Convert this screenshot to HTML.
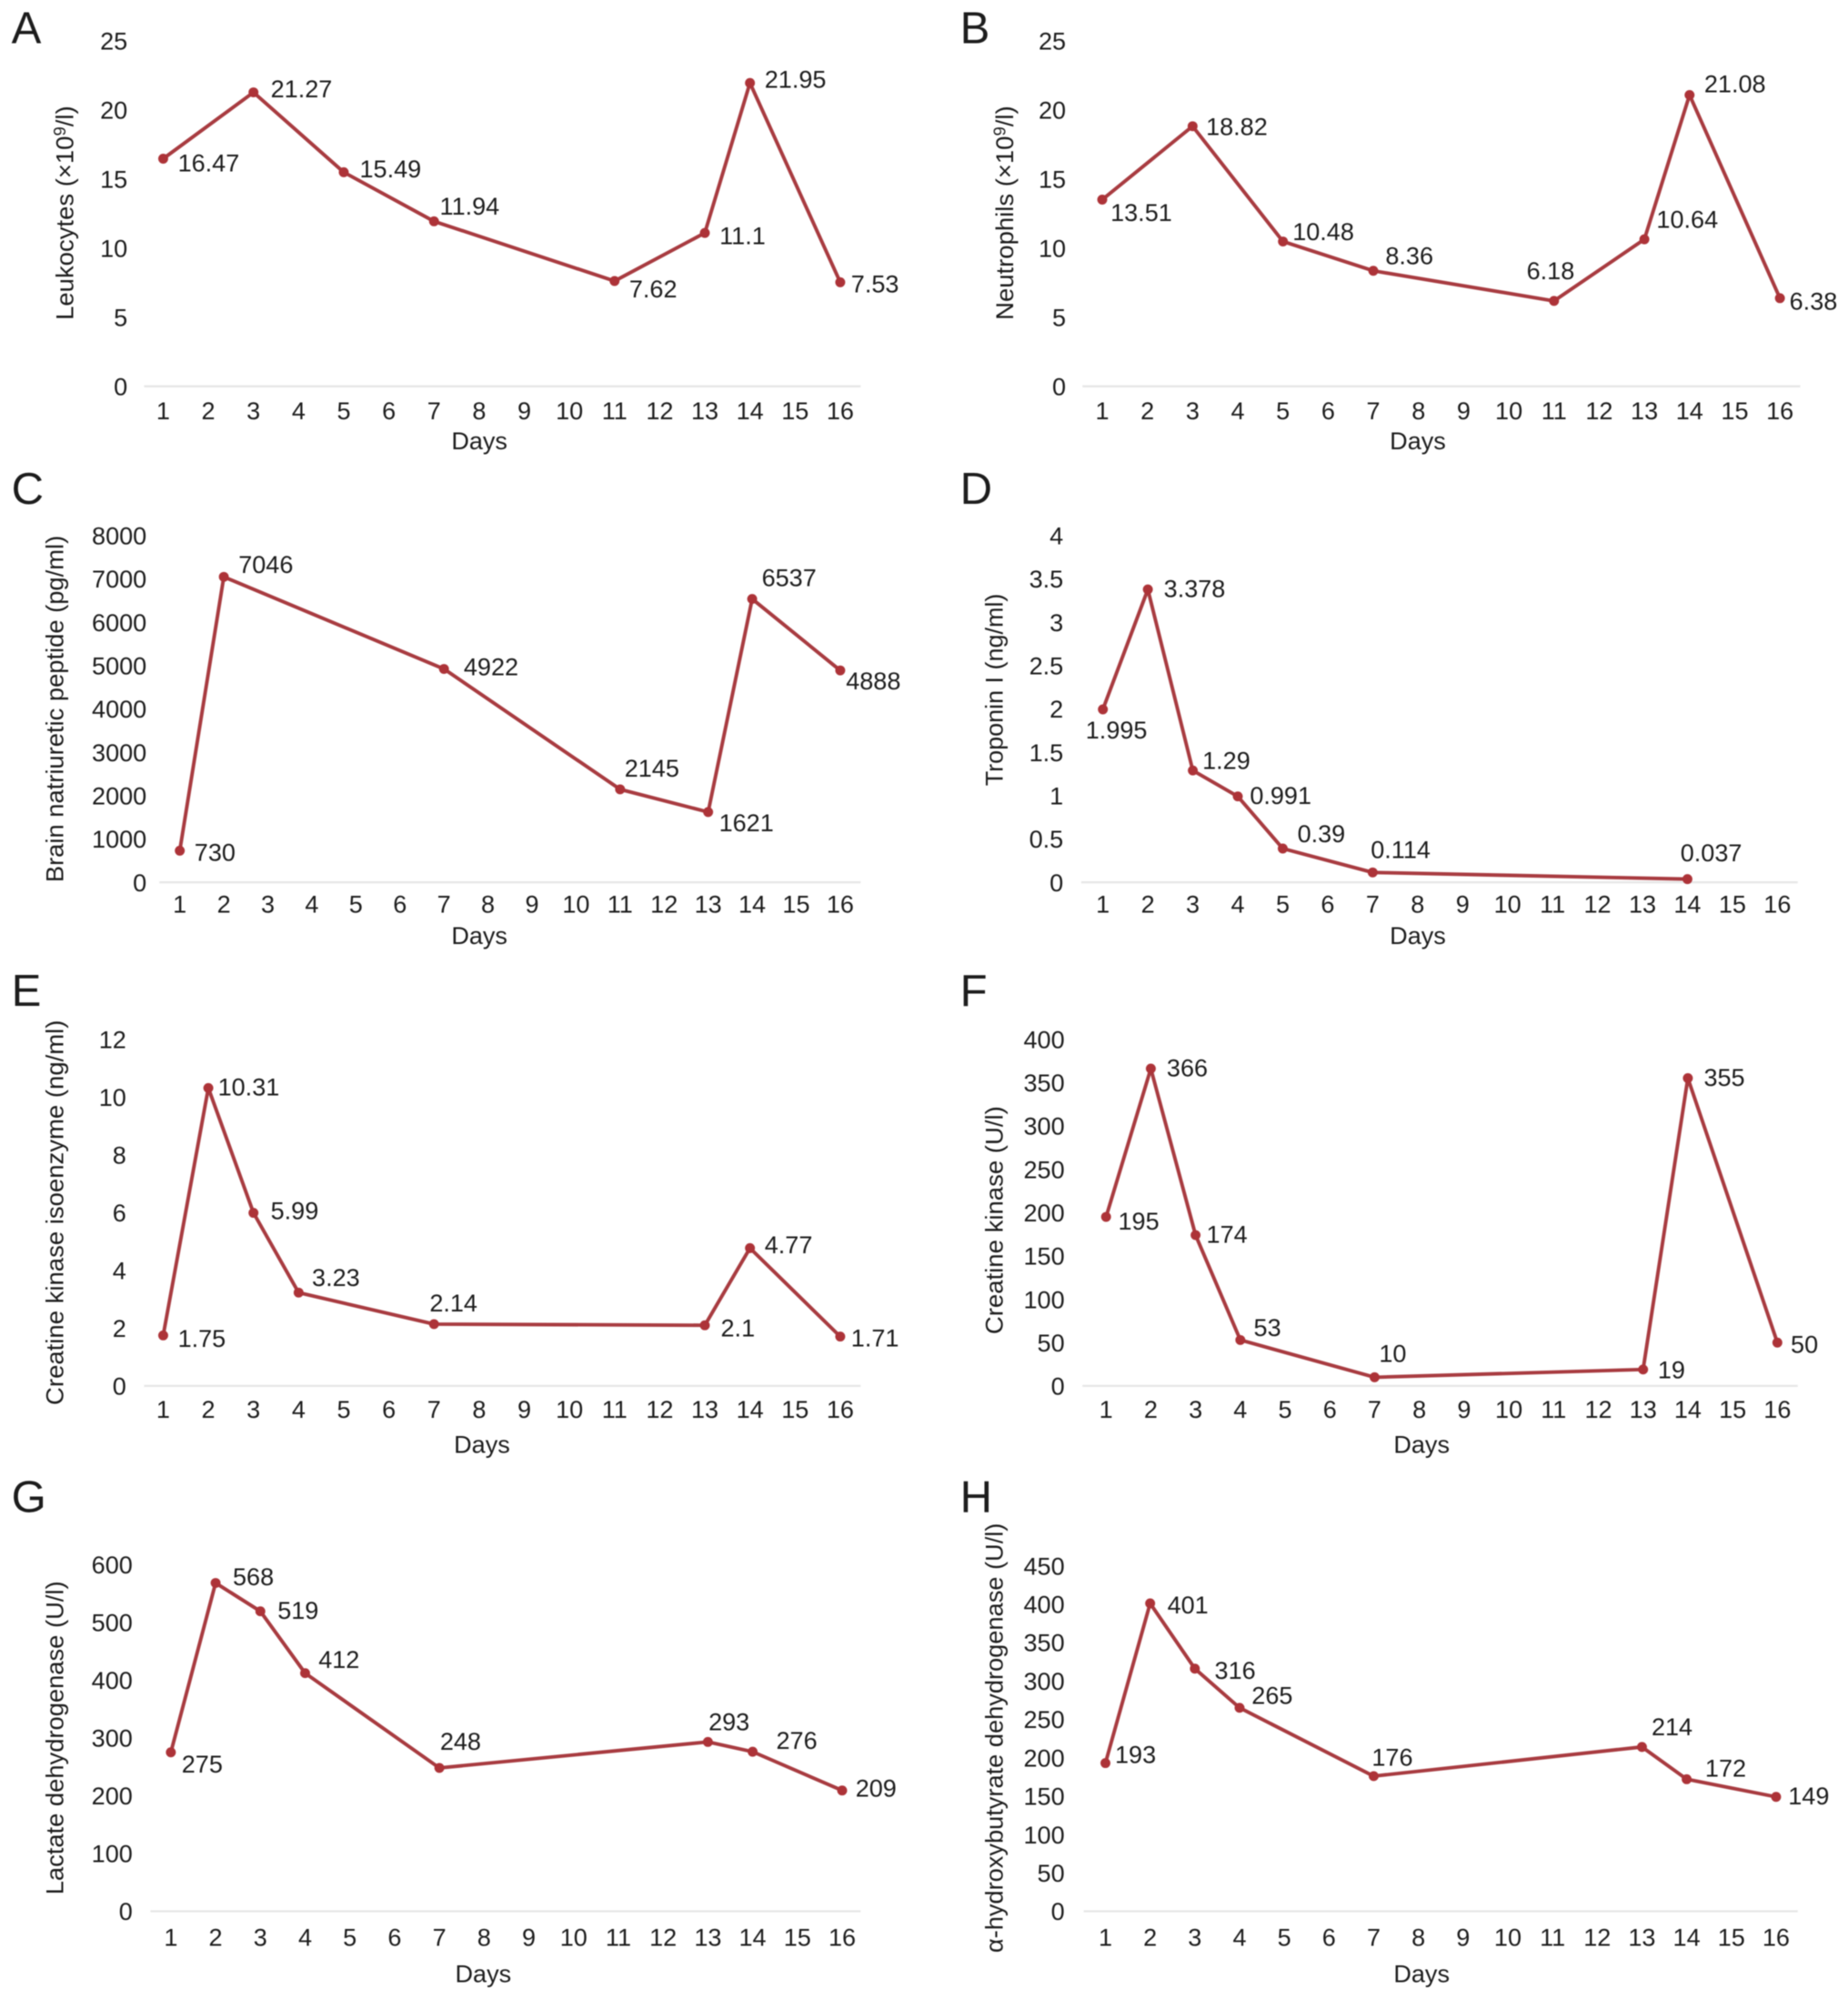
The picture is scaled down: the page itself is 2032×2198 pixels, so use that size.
<!DOCTYPE html>
<html lang="en">
<head>
<meta charset="utf-8">
<title>Laboratory time courses</title>
<style>
html,body{margin:0;padding:0;background:#fff;}
svg{display:block;filter:blur(0.6px);}
text{font-family:"Liberation Sans",Arial,sans-serif;fill:#1c1c1c;}
</style>
</head>
<body>
<svg id="figure" xmlns="http://www.w3.org/2000/svg" width="2032" height="2198" viewBox="0 0 1449.4 1567.8"></svg>
<script>
const dayLabels = [1,2,3,4,5,6,7,8,9,10,11,12,13,14,15,16];

const daysA = [1,3,5,7,11,13,14,16];
const valuesA = [16.47,21.27,15.49,11.94,7.62,11.1,21.95,7.53];
const ticksA = [0,5,10,15,20,25];

const daysB = [1,3,5,7,11,13,14,16];
const valuesB = [13.51,18.82,10.48,8.36,6.18,10.64,21.08,6.38];
const ticksB = [0,5,10,15,20,25];

const daysC = [1,2,7,11,13,14,16];
const valuesC = [730,7046,4922,2145,1621,6537,4888];
const ticksC = [0,1000,2000,3000,4000,5000,6000,7000,8000];

const daysD = [1,2,3,4,5,7,14];
const valuesD = [1.995,3.378,1.29,0.991,0.39,0.114,0.037];
const ticksD = [0,0.5,1,1.5,2,2.5,3,3.5,4];

const daysE = [1,2,3,4,7,13,14,16];
const valuesE = [1.75,10.31,5.99,3.23,2.14,2.1,4.77,1.71];
const ticksE = [0,2,4,6,8,10,12];

const daysF = [1,2,3,4,7,13,14,16];
const valuesF = [195,366,174,53,10,19,355,50];
const ticksF = [0,50,100,150,200,250,300,350,400];

const daysG = [1,2,3,4,7,13,14,16];
const valuesG = [275,568,519,412,248,293,276,209];
const ticksG = [0,100,200,300,400,500,600];

const daysH = [1,2,3,4,7,13,14,16];
const valuesH = [193,401,316,265,176,214,172,149];
const ticksH = [0,50,100,150,200,250,300,350,400,450];

const panels = [
  {id:'A',days:daysA,values:valuesA,ticks:ticksA,title:'Leukocytes (×10',sup:'9',after:'/l)',
   layout:{letterX:9,letterY:34,x1:128,x16:659,base:303,top:32,axisL:113,axisR:675,tickR:100,tickLabelY:322,daysX:376,daysY:346,titleX:51,titleY:167,titleLen:168},
   offsets:[[11,4],[13,-2],[12,-2],[4,-11],[11,7],[11,3],[11,-2],[8,2]]},
  {id:'B',days:daysB,values:valuesB,ticks:ticksB,title:'Neutrophils (×10',sup:'9',after:'/l)',
   layout:{letterX:753,letterY:34,x1:864.5,x16:1396,base:303,top:32,axisL:849,axisR:1412,tickR:836,tickLabelY:322,daysX:1112,daysY:346,titleX:788,titleY:167,titleLen:168},
   offsets:[[6,11],[10,1],[7,-7],[9,-11],[-22,-23],[9,-15],[11,-8],[7,3]]},
  {id:'C',days:daysC,values:valuesC,ticks:ticksC,title:'Brain natriuretic peptide (pg/ml)',
   layout:{letterX:9,letterY:395,x1:141,x16:659,base:692,top:420,axisL:125,axisR:675,tickR:115,tickLabelY:709,daysX:376,daysY:734,titleX:43,titleY:556,titleLen:272},
   offsets:[[11,2],[11,-9],[15,-1],[3,-16],[8,9],[7,-16],[4,9]]},
  {id:'D',days:daysD,values:valuesD,ticks:ticksD,title:'Troponin I (ng/ml)',
   layout:{letterX:753,letterY:395,x1:865,x16:1394,base:692,top:420,axisL:848,axisR:1410,tickR:834,tickLabelY:709,daysX:1112,daysY:734,titleX:780,titleY:541,titleLen:151},
   offsets:[[-14,17],[12,0],[7,-7],[9,0],[11,-11],[-2,-17],[-6,-20]]},
  {id:'E',days:daysE,values:valuesE,ticks:ticksE,title:'Creatine kinase isoenzyme (ng/ml)',
   layout:{letterX:9,letterY:789,x1:128,x16:659,base:1087,top:815,axisL:113,axisR:675,tickR:99,tickLabelY:1105,daysX:378,daysY:1133,titleX:43,titleY:951,titleLen:302},
   offsets:[[11,3],[7,0],[13,-1],[10,-11],[-4,-16],[12,3],[11,-2],[8,2]]},
  {id:'F',days:daysF,values:valuesF,ticks:ticksF,title:'Creatine kinase (U/l)',
   layout:{letterX:753,letterY:789,x1:867.5,x16:1394,base:1087,top:815,axisL:849,axisR:1410,tickR:835,tickLabelY:1105,daysX:1115,daysY:1133,titleX:780,titleY:957,titleLen:179},
   offsets:[[9,4],[12,0],[8,0],[10,-9],[3,-18],[11,1],[12,0],[10,2]]},
  {id:'G',days:daysG,values:valuesG,ticks:ticksG,title:'Lactate dehydrogenase (U/l)',
   layout:{letterX:9,letterY:1186,x1:134,x16:660.5,base:1499,top:1227,axisL:118,axisR:675,tickR:104,tickLabelY:1519,daysX:379,daysY:1548,titleX:43,titleY:1363,titleLen:246},
   offsets:[[8,10],[13,-4],[13,0],[10,-10],[0,-20],[0,-15],[18,-8],[10,-1]]},
  {id:'H',days:daysH,values:valuesH,ticks:ticksH,title:'α-hydroxybutyrate dehydrogenase (U/l)',
   layout:{letterX:753,letterY:1186,x1:867,x16:1393,base:1499,top:1228,axisL:850,axisR:1410,tickR:835,tickLabelY:1519,daysX:1115,daysY:1548,titleX:780,titleY:1363,titleLen:337},
   offsets:[[7,-6],[13,2],[15,2],[9,-9],[-2,-14],[7,-15],[14,-8],[9,0]]}
];

const NS = 'http://www.w3.org/2000/svg';
const FONT = 19.3;
const LINE = '#a83b40';
const DOT = '#ad3338';
const figure = document.getElementById('figure');

function make(parent, tag, attrs, txt) {
  const el = document.createElementNS(NS, tag);
  for (const k in attrs) el.setAttribute(k, attrs[k]);
  if (txt !== undefined) el.textContent = txt;
  parent.appendChild(el);
  return el;
}

panels.forEach(function (p) {
  const L = p.layout;
  const maxTick = p.ticks[p.ticks.length - 1];
  const xScale = function (day) {
    return L.x1 + (day - dayLabels[0]) * (L.x16 - L.x1) / (dayLabels[dayLabels.length - 1] - dayLabels[0]);
  };
  const yScale = function (v) {
    return L.base - v * (L.base - L.top) / maxTick;
  };

  const g = make(figure, 'g', {});
  
  

  const letter = make(g, 'text', {x: L.letterX, y: L.letterY, 'font-size': 35, fill: '#111'}, p.id);
  
  

  const axis = make(g, 'line', {x1: L.axisL, x2: L.axisR, y1: L.base, y2: L.base, stroke: '#e6e6e6', 'stroke-width': 1.6});
  
  

  p.ticks.forEach(function (t) {
    const tl = make(g, 'text', {x: L.tickR, y: yScale(t) + 6.9, 'font-size': FONT, 'text-anchor': 'end'}, String(t));
    
    
  });

  dayLabels.forEach(function (d) {
    const tl = make(g, 'text', {x: xScale(d), y: L.tickLabelY + 6.9, 'font-size': FONT, 'text-anchor': 'middle'}, String(d));
    
    
  });

  const xTitle = make(g, 'text', {x: L.daysX, y: L.daysY + 6.5, 'font-size': FONT, 'text-anchor': 'middle'}, 'Days');
  
  

  const yTitle = make(g, 'text', {
    transform: 'translate(' + (L.titleX + 6.5) + ',' + L.titleY + ') rotate(-90)',
    'font-size': FONT, 'text-anchor': 'middle',
    textLength: L.titleLen, lengthAdjust: 'spacingAndGlyphs'
  });
  
  
  make(yTitle, 'tspan', {}, p.title);
  if (p.sup) {
    make(yTitle, 'tspan', {dy: -6, 'font-size': 13}, p.sup);
    make(yTitle, 'tspan', {dy: 6}, p.after);
  }

  const pts = p.days.map(function (d, i) { return xScale(d) + ',' + yScale(p.values[i]); }).join(' ');
  const line = make(g, 'polyline', {points: pts, fill: 'none', stroke: LINE, 'stroke-width': 2.8, 'stroke-linejoin': 'round'});
  
  

  p.days.forEach(function (d, i) {
    const px = xScale(d), py = yScale(p.values[i]);
    const dot = make(g, 'circle', {cx: px, cy: py, r: 3.9, fill: DOT});
    
    
    const off = p.offsets[i];
    const lab = make(g, 'text', {x: px + off[0] + 0.5, y: py + off[1] + 5.9, 'font-size': FONT}, String(p.values[i]));
    
    
  });
});
</script>
</body>
</html>
